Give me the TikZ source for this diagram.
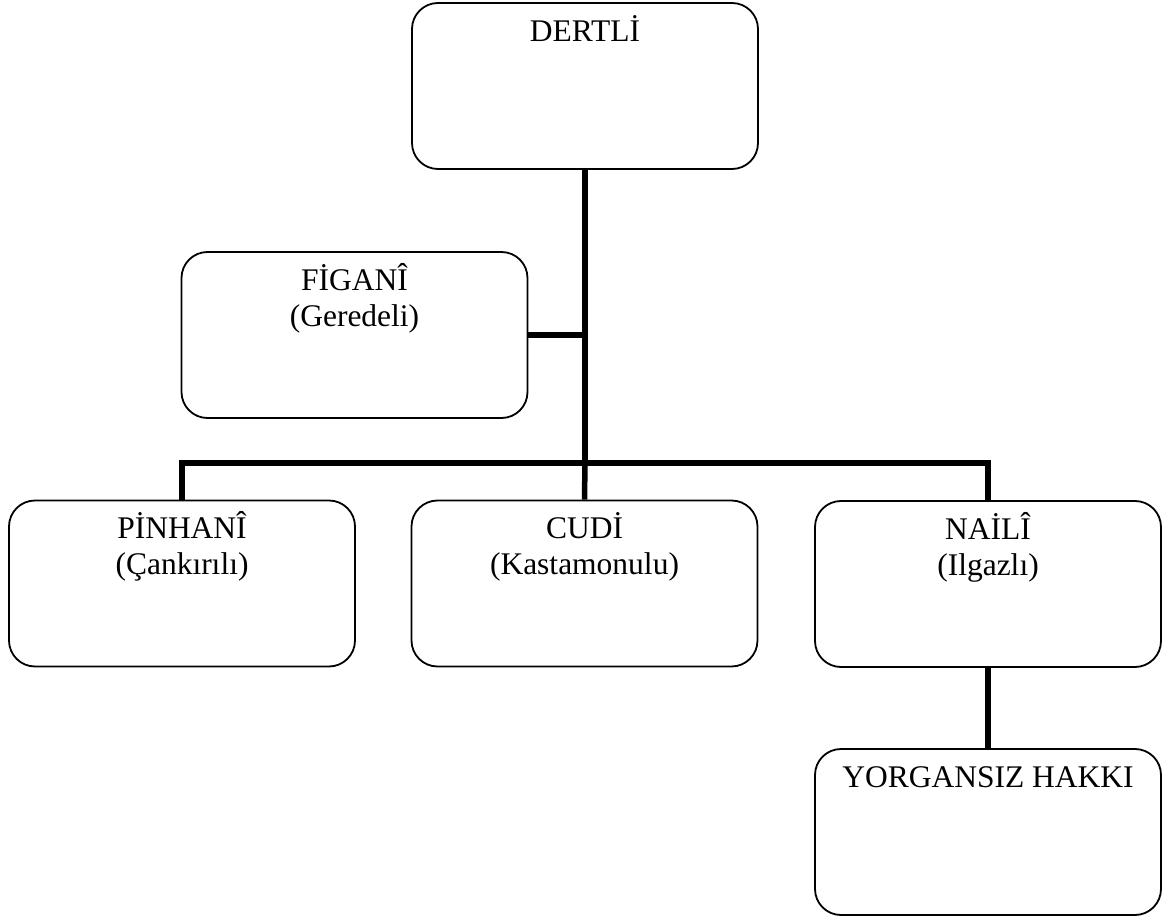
\documentclass[tikz,border=0pt]{standalone}
\usepackage{fontspec}
\setmainfont{Liberation Serif}
\begin{document}
\begin{tikzpicture}[x=1pt,y=-1pt,
  box/.style={draw, line width=1.8pt, rounded corners=26pt,
    minimum width=346pt, minimum height=166pt, inner sep=0pt},
  title/.style={anchor=base, inner sep=0pt, font=\fontsize{31.5}{36}\selectfont},
  wire/.style={line width=5.5pt, line join=miter}]
  \useasboundingbox (0,0) rectangle (1171,920);

  % boxes
  \node[box] (dertli)  at (585,86)    {};
  \node[box] (figani)  at (354.5,335) {};
  \node[box] (pinhani) at (182,583.5) {};
  \node[box] (cudi)    at (584.5,583.5) {};
  \node[box] (naili)   at (988,584)   {};
  \node[box] (hakki)   at (988,832)   {};

  % names and birthplaces
  \node[title] (dertli-n)  at ([yshift=-39pt]dertli.north)  {DERTLİ};
  \node[title] (figani-n)  at ([yshift=-39pt]figani.north)  {FİGANÎ};
  \node[title] (figani-p)  at ([yshift=-75pt]figani.north)  {(Geredeli)};
  \node[title] (pinhani-n) at ([yshift=-39pt]pinhani.north) {PİNHANÎ};
  \node[title] (pinhani-p) at ([yshift=-75pt]pinhani.north) {(Çankırılı)};
  \node[title] (cudi-n)    at ([yshift=-39pt]cudi.north)    {CUDİ};
  \node[title] (cudi-p)    at ([yshift=-75pt]cudi.north)    {(Kastamonulu)};
  \node[title] (naili-n)   at ([yshift=-39pt]naili.north)   {NAİLÎ};
  \node[title] (naili-p)   at ([yshift=-75pt]naili.north)   {(Ilgazlı)};
  \node[title] (hakki-n)   at ([yshift=-39pt]hakki.north)   {YORGANSIZ HAKKI};

  % connectors
  \coordinate (hub) at (dertli.south |- 0,463);
  \draw[wire] (dertli.south) -- (hub);
  \draw[wire] (figani.east) -- (figani.east -| hub);
  \draw[wire] (pinhani.north) -- (pinhani.north |- hub) -- (naili.north |- hub) -- (naili.north);
  \draw[wire] (hub) -- (cudi.north);
  \draw[wire] (naili.south) -- (hakki.north);
\end{tikzpicture}
\end{document}
